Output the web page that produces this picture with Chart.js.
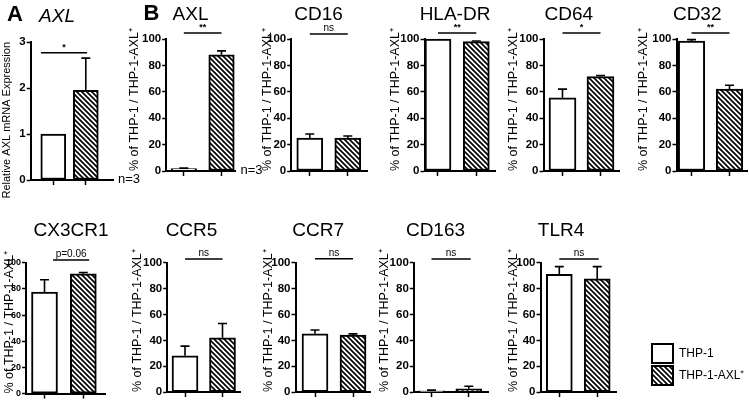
<!DOCTYPE html>
<html><head><meta charset="utf-8">
<script src="https://cdn.jsdelivr.net/npm/chart.js@4.4.0/dist/chart.umd.min.js"></script>
<style>
html,body{margin:0;padding:0;background:#fff;width:749px;height:400px;overflow:hidden;position:relative}
canvas{position:absolute}
</style></head><body>
<script>
const FONT = "'Liberation Sans', Arial, Helvetica, sans-serif";

// ---------- data ----------
const groups = ['THP-1', 'THP-1-AXL\u207A'];
const panelNames = ['AXL', 'AXL', 'CD16', 'HLA-DR', 'CD64', 'CD32', 'CX3CR1', 'CCR5', 'CCR7', 'CD163', 'TLR4'];
const thp1Mean   = [1,    1.8, 25,   100,  55.5, 98.5, 77.5, 28,   45, 1,   91];
const thp1ErrTop = [1,    2.2, 28,   100,  62,   99.5, 87,   35.5, 48, 1.5, 97];
const axlMean    = [1.95, 88,  25,   98,   71.5, 62,   91.5, 42,   44, 2.5, 87.5];
const axlErrTop  = [2.65, 91,  26.5, 98.5, 72.3, 65,   92.5, 53,   45, 4.5, 97];
const sigLabels  = ['*', '**', 'ns', '**', '*', '**', 'p=0.06', 'ns', 'ns', 'ns', 'ns'];
const sampleNote = ['n=3', 'n=3', '', '', '', '', '', '', '', '', ''];
const panelLetters = ['A', 'B', '', '', '', '', '', '', '', '', ''];
const yTitleA = 'Relative AXL mRNA Expression';
const yTitleB = '% of THP-1 / THP-1-AXL\u207A';
const yTicksA = [0, 1, 2, 3];
const yTicksB = [0, 20, 40, 60, 80, 100];

// ---------- layout (page pixels / axis ranges) ----------
const yRangeA = [0, 3];
const yRangeB = [0, 100];
const layout = [
  {yl:6.6, left:30.7, right:113, top:42, bottom:180, xr:[-0.695,1.837], bw:25, tx:57, ty:16.3, sy:52.7, ss:[-0.38,1.04], row:0, italic:true, lx:15, ly:14.5},
  {yl:134, left:165.7, right:235, top:39, bottom:171, xr:[-0.467,1.371], bw:25.5, tx:190, ty:15, sy:33, ss:[0,1], row:0, lx:151, ly:13.5},
  {yl:267, left:290.7, right:366.7, top:39, bottom:171, xr:[-0.489,1.511], bw:26, tx:318, ty:15, sy:34, ss:[0,1], row:0},
  {yl:395, left:424, right:495, top:39, bottom:171, xr:[-0.352,1.501], bw:26, tx:454.5, ty:15, sy:33, ss:[0,1], row:0},
  {yl:513, left:543, right:619, top:39, bottom:171, xr:[-0.5,1.5], bw:27, tx:568.4, ty:15, sy:33, ss:[0,1], row:0},
  {yl:643, left:676, right:746.7, top:39, bottom:171, xr:[-0.395,1.466], bw:26.5, tx:696.7, ty:15, sy:33, ss:[0,1], row:0},
  {yl:9.5, left:26, right:105, top:262.7, bottom:395, xr:[-0.477,1.559], bw:26, tx:71, ty:231, sy:260, ss:[0.22,1.15], row:1, tf:9},
  {yl:137, left:166.7, right:240, top:262.7, bottom:395, xr:[-0.475,1.48], bw:26, tx:191, ty:230.5, sy:259, ss:[0,1], row:1},
  {yl:268, left:295, right:370, top:262.7, bottom:395, xr:[-0.513,1.46], bw:26, tx:317.7, ty:230.5, sy:258.7, ss:[0,1], row:1},
  {yl:384, left:413.3, right:488, top:262.7, bottom:395, xr:[-0.475,1.528], bw:26, tx:435, ty:230.5, sy:259, ss:[0,1.05], row:1},
  {yl:513, left:540, right:616, top:262.7, bottom:395, xr:[-0.496,1.509], bw:26, tx:560.5, ty:230.5, sy:259, ss:[0,1.04], row:1}
];

function makeHatch() {
  const c = document.createElement('canvas');
  const p = 5;
  c.width = p; c.height = p;
  const g = c.getContext('2d');
  g.fillStyle = '#fff'; g.fillRect(0, 0, p, p);
  g.strokeStyle = '#000'; g.lineWidth = 1.7;
  g.beginPath();
  for (let k = -1; k <= 1; k++) { g.moveTo(k * p - 1, -1); g.lineTo(k * p + p + 1, p + 1); }
  g.stroke();
  return g.createPattern(c, 'repeat');
}
const hatch = makeHatch();

const annotPlugin = {
  id: 'annot',
  afterDatasetsDraw(chart, args, o) {
    const ctx = chart.ctx, xs = chart.scales.x, ys = chart.scales.y;
    ctx.save();
    ctx.strokeStyle = '#000'; ctx.lineWidth = 1.6;
    o.means.forEach((m, i) => {
      const e = o.errs[i];
      if (e <= m) return;
      const x = xs.getPixelForValue(i), y1 = ys.getPixelForValue(m), y2 = ys.getPixelForValue(e);
      ctx.beginPath(); ctx.moveTo(x, y1); ctx.lineTo(x, y2);
      ctx.moveTo(x - 4.5, y2); ctx.lineTo(x + 4.5, y2); ctx.stroke();
    });
    ctx.restore();
  },
  afterDraw(chart, args, o) {
    const ctx = chart.ctx, xs = chart.scales.x;
    const L = o.L, x0 = o.x0, y0 = o.y0;
    ctx.save();
    ctx.fillStyle = '#000'; ctx.strokeStyle = '#000';
    ctx.font = (L.italic ? 'italic ' : '') + '19px ' + FONT;
    ctx.textAlign = 'center'; ctx.textBaseline = 'middle';
    ctx.fillText(o.title, L.tx - x0, L.ty - y0);
    if (o.letter) {
      ctx.font = 'bold 22px ' + FONT;
      ctx.fillText(o.letter, L.lx - x0, L.ly - y0);
    }
    const sx1 = xs.getPixelForValue(L.ss[0]), sx2 = xs.getPixelForValue(L.ss[1]);
    const sy = L.sy - y0;
    ctx.lineWidth = 1.5;
    ctx.beginPath(); ctx.moveTo(sx1, sy); ctx.lineTo(sx2, sy); ctx.stroke();
    ctx.font = (o.sig.indexOf('*') >= 0 ? 'bold 9px ' : '10px ') + FONT;
    ctx.textBaseline = 'bottom';
    ctx.fillText(o.sig, (sx1 + sx2) / 2, sy - 0.5);
    if (o.note) {
      ctx.font = '13px ' + FONT;
      ctx.textAlign = 'left'; ctx.textBaseline = 'middle';
      ctx.fillText(o.note, L.right - x0 + 5, L.bottom - y0 - 0.5);
    }
    ctx.restore();
  }
};

const XH = 8;
layout.forEach((L, i) => {
  const isA = i === 0;
  const ytFont = isA ? 11 : 12.5;
  const x0 = L.yl - ytFont * 1.2 / 2;
  const y0 = L.row === 0 ? 0 : 200;
  const H = 200;
  const W = Math.round(L.right + 32 - x0);
  const cv = document.createElement('canvas');
  cv.width = W; cv.height = H;
  cv.style.left = x0 + 'px'; cv.style.top = y0 + 'px';
  cv.style.width = W + 'px'; cv.style.height = H + 'px';
  document.body.appendChild(cv);
  const means = [thp1Mean[i], axlMean[i]];
  const errs = [thp1ErrTop[i], axlErrTop[i]];
  const yr = isA ? yRangeA : yRangeB;
  const yt = isA ? yTicksA : yTicksB;
  new Chart(cv, {
    type: 'bar',
    data: {
      datasets: [{
        label: panelNames[i],
        data: means.map((v, k) => ({x: k, y: v})),
        backgroundColor: ['#fff', hatch],
        borderColor: '#000', borderWidth: 2, borderSkipped: false,
        barThickness: L.bw, clip: false
      }]
    },
    options: {
      responsive: false, animation: false, devicePixelRatio: 1,
      layout: {padding: {left: 0, top: L.top - y0, right: W - (L.right - x0), bottom: H - (L.bottom - y0) - XH}},
      plugins: {
        legend: {display: false}, tooltip: {enabled: false},
        annot: {L, x0, y0, means, errs, title: panelNames[i], letter: panelLetters[i], sig: sigLabels[i], note: sampleNote[i]}
      },
      scales: {
        x: {
          type: 'linear', min: L.xr[0], max: L.xr[1], offset: false,
          afterBuildTicks: s => { s.ticks = [{value: 0}, {value: 1}]; },
          afterFit: s => { s.height = XH; },
          ticks: {display: false},
          grid: {display: true, offset: false, drawOnChartArea: false, drawTicks: true, tickLength: 5, tickWidth: 1.5, tickColor: '#000'},
          border: {display: true, color: '#000', width: 2}
        },
        y: {
          min: yr[0], max: yr[1],
          afterBuildTicks: s => { s.ticks = yt.map(v => ({value: v})); },
          afterFit: s => { s.width = L.left - x0; },
          ticks: {color: '#000', padding: 1, font: {family: FONT, size: L.tf || 11.5, weight: 'bold'}},
          grid: {display: true, drawOnChartArea: false, drawTicks: true, tickLength: 4, tickWidth: 1.5, tickColor: '#000'},
          border: {display: true, color: '#000', width: 2},
          title: {display: true, text: isA ? yTitleA : yTitleB, align: isA ? 'end' : 'start', color: '#000', padding: 0, font: {family: FONT, size: ytFont}}
        }
      }
    },
    plugins: [annotPlugin]
  });
});

// legend
(function () {
  const cv = document.createElement('canvas');
  const x0 = 649, y0 = 341, W = 220, H = 59;
  cv.width = W; cv.height = H;
  cv.style.left = x0 + 'px'; cv.style.top = y0 + 'px';
  cv.style.width = W + 'px'; cv.style.height = H + 'px';
  document.body.appendChild(cv);
  new Chart(cv, {
    type: 'bar',
    data: {labels: [], datasets: groups.map((g, k) => ({label: g, data: [], backgroundColor: k ? hatch : '#fff'}))},
    options: {
      responsive: false, animation: false, devicePixelRatio: 1,
      layout: {padding: 0},
      scales: {x: {display: false}, y: {display: false}},
      plugins: {
        tooltip: {enabled: false},
        legend: {
          display: true, position: 'left', align: 'start',
          labels: {
            boxWidth: 21, boxHeight: 19, padding: 3, color: '#000',
            font: {family: FONT, size: 12},
            generateLabels: () => groups.map((g, k) => ({
              text: g, fillStyle: k ? hatch : '#fff', strokeStyle: '#000', lineWidth: 2, hidden: false, datasetIndex: k
            }))
          }
        }
      }
    }
  });
})();
</script>
</body></html>
